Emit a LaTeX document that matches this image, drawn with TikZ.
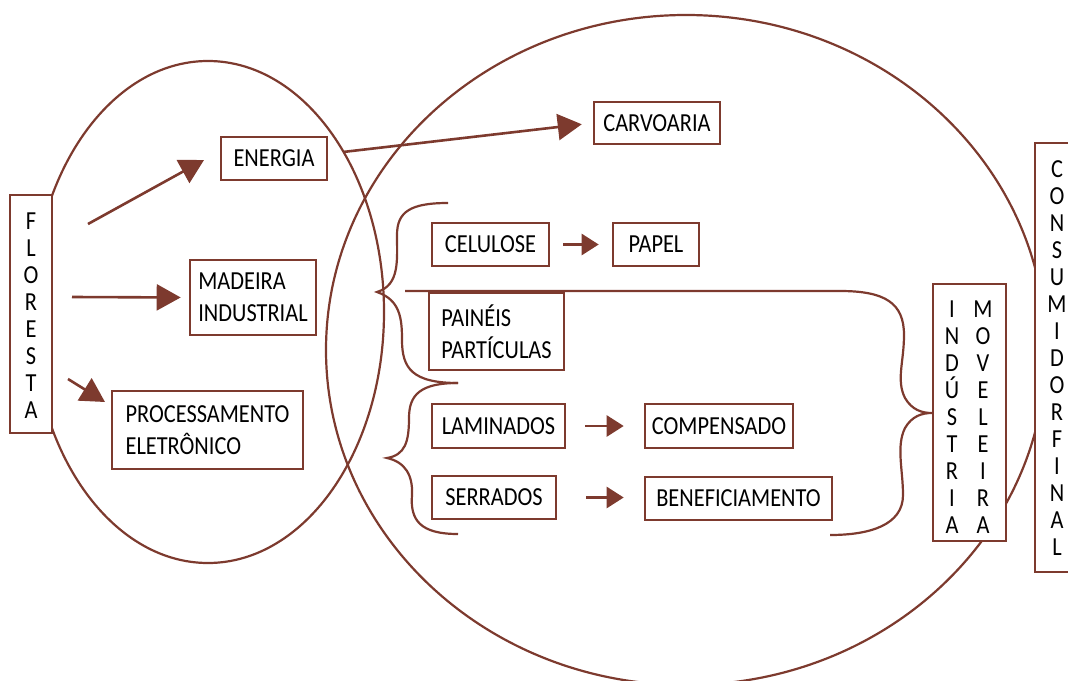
\documentclass[tikz,border=0pt]{standalone}
\usepackage{fontspec}
\setmainfont{Carlito}[FakeStretch=0.86]
\usetikzlibrary{arrows.meta}
\definecolor{brn}{RGB}{125,58,46}
\begin{document}
\begin{tikzpicture}[x=1pt,y=-1pt,
  box/.style={draw=brn, line width=2.6pt, fill=white, inner sep=0pt, text=black,
    font=\fontsize{26}{32}\selectfont, align=left},
  vtext/.style={inner sep=0pt, text=black, font=\fontsize{26}{27}\selectfont, align=center},
  outline/.style={draw=brn, line width=2.2pt},
  conn/.style={draw=brn, line width=2.6pt},
  arr/.style={conn, -{Triangle[length=24pt,width=26pt]}},
  sarr/.style={conn, -{Triangle[length=17pt,width=21pt]}}]
\useasboundingbox (0,0) rectangle (1068,680);

% ellipses
\draw[outline] (208,312) ellipse [x radius=176, y radius=251];
\draw[outline] (686,350) ellipse [x radius=360, y radius=335];

% boxes
\node[box, minimum width=42pt, minimum height=238pt] (floresta) at (31,314) {};
\node[vtext] (florestaT) at (31,315.5) {F\\L\\O\\R\\E\\S\\T\\A};
\node[box, minimum width=106pt, minimum height=43pt] (energia) at (274,158.5) {ENERGIA};
\node[box, minimum width=126pt, minimum height=42pt] (carv) at (657,123) {CARVOARIA};
\node[box, minimum width=126pt, minimum height=75pt] (madeira) at (253,297.5) {MADEIRA\\INDUSTRIAL};
\node[box, minimum width=191pt, minimum height=78pt] (proc) at (207.5,430) {PROCESSAMENTO\\ELETRÔNICO};
\node[box, minimum width=117pt, minimum height=43pt] (celulose) at (490.5,244.5) {CELULOSE};
\node[box, minimum width=86pt, minimum height=43pt] (papel) at (656,244.5) {PAPEL};
\node[box, minimum width=135pt, minimum height=77pt] (paineis) at (496.5,331.5) {PAINÉIS\\PARTÍCULAS};
\node[box, minimum width=133pt, minimum height=44pt] (laminados) at (498.5,426) {LAMINADOS};
\node[box, minimum width=148pt, minimum height=44pt] (compensado) at (719,426) {COMPENSADO};
\node[box, minimum width=124pt, minimum height=43pt] (serrados) at (494,497.5) {SERRADOS};
\node[box, minimum width=187pt, minimum height=43pt] (benef) at (738.5,498.5) {BENEFICIAMENTO};
\node[box, minimum width=73pt, minimum height=257pt] (ind) at (969.5,412.5) {};
\node[vtext] (indA) at (952,417.5) {I\\N\\D\\Ú\\S\\T\\R\\I\\A};
\node[vtext] (indB) at (983,417.5) {M\\O\\V\\E\\L\\E\\I\\R\\A};
\node[box, minimum width=44pt, minimum height=429pt] (cons) at (1057,357.5) {};
\node[vtext] (consT) at (1057,358) {C\\O\\N\\S\\U\\M\\I\\D\\O\\R\\F\\I\\N\\A\\L};

% arrow end points
\coordinate (f1) at (88,224);
\coordinate (t1) at (204,160);
\coordinate (f2) at (72,297);
\coordinate (f3) at (68,379);
\coordinate (t3) at (105,402);
\coordinate (e1) at (343,152);

\draw[arr] (f1) -- (t1);
\draw[arr, shorten >=8pt] (f2) -- (madeira.west);
\draw[arr] (f3) -- (t3);
\draw[arr, shorten >=11pt] (e1) -- (carv.west);
\draw[sarr, shorten <=13pt, shorten >=13pt] (celulose.east) -- (papel.west);
\draw[sarr, shorten <=19pt, shorten >=20pt] (laminados.east) -- (compensado.west);
\draw[sarr, shorten <=29pt, shorten >=20pt] (serrados.east) -- (benef.west |- serrados.east);

% braces
\draw[outline] (448,203) .. controls (410,203) and (397,212) .. (397,235)
  .. controls (397,260) and (400,285) .. (377,292)
  .. controls (400,300) and (402,318) .. (402,340)
  .. controls (402,368) and (412,383) .. (458,383);
\draw[outline] (458,383) .. controls (420,383) and (409,395) .. (409,418)
  .. controls (409,442) and (405,455) .. (387,458)
  .. controls (405,462) and (413,475) .. (412,495)
  .. controls (410,520) and (420,534) .. (458,534);
\draw[outline] (405,291) -- (840,291)
  .. controls (885,291) and (904,303) .. (904,335)
  .. controls (904,362) and (896,380) .. (905,398)
  .. controls (912,410) and (922,413) .. (932,413)
  .. controls (922,413) and (912,416) .. (905,428)
  .. controls (896,446) and (903,470) .. (903,495)
  .. controls (903,525) and (870,535) .. (830,535);
\end{tikzpicture}
\end{document}
